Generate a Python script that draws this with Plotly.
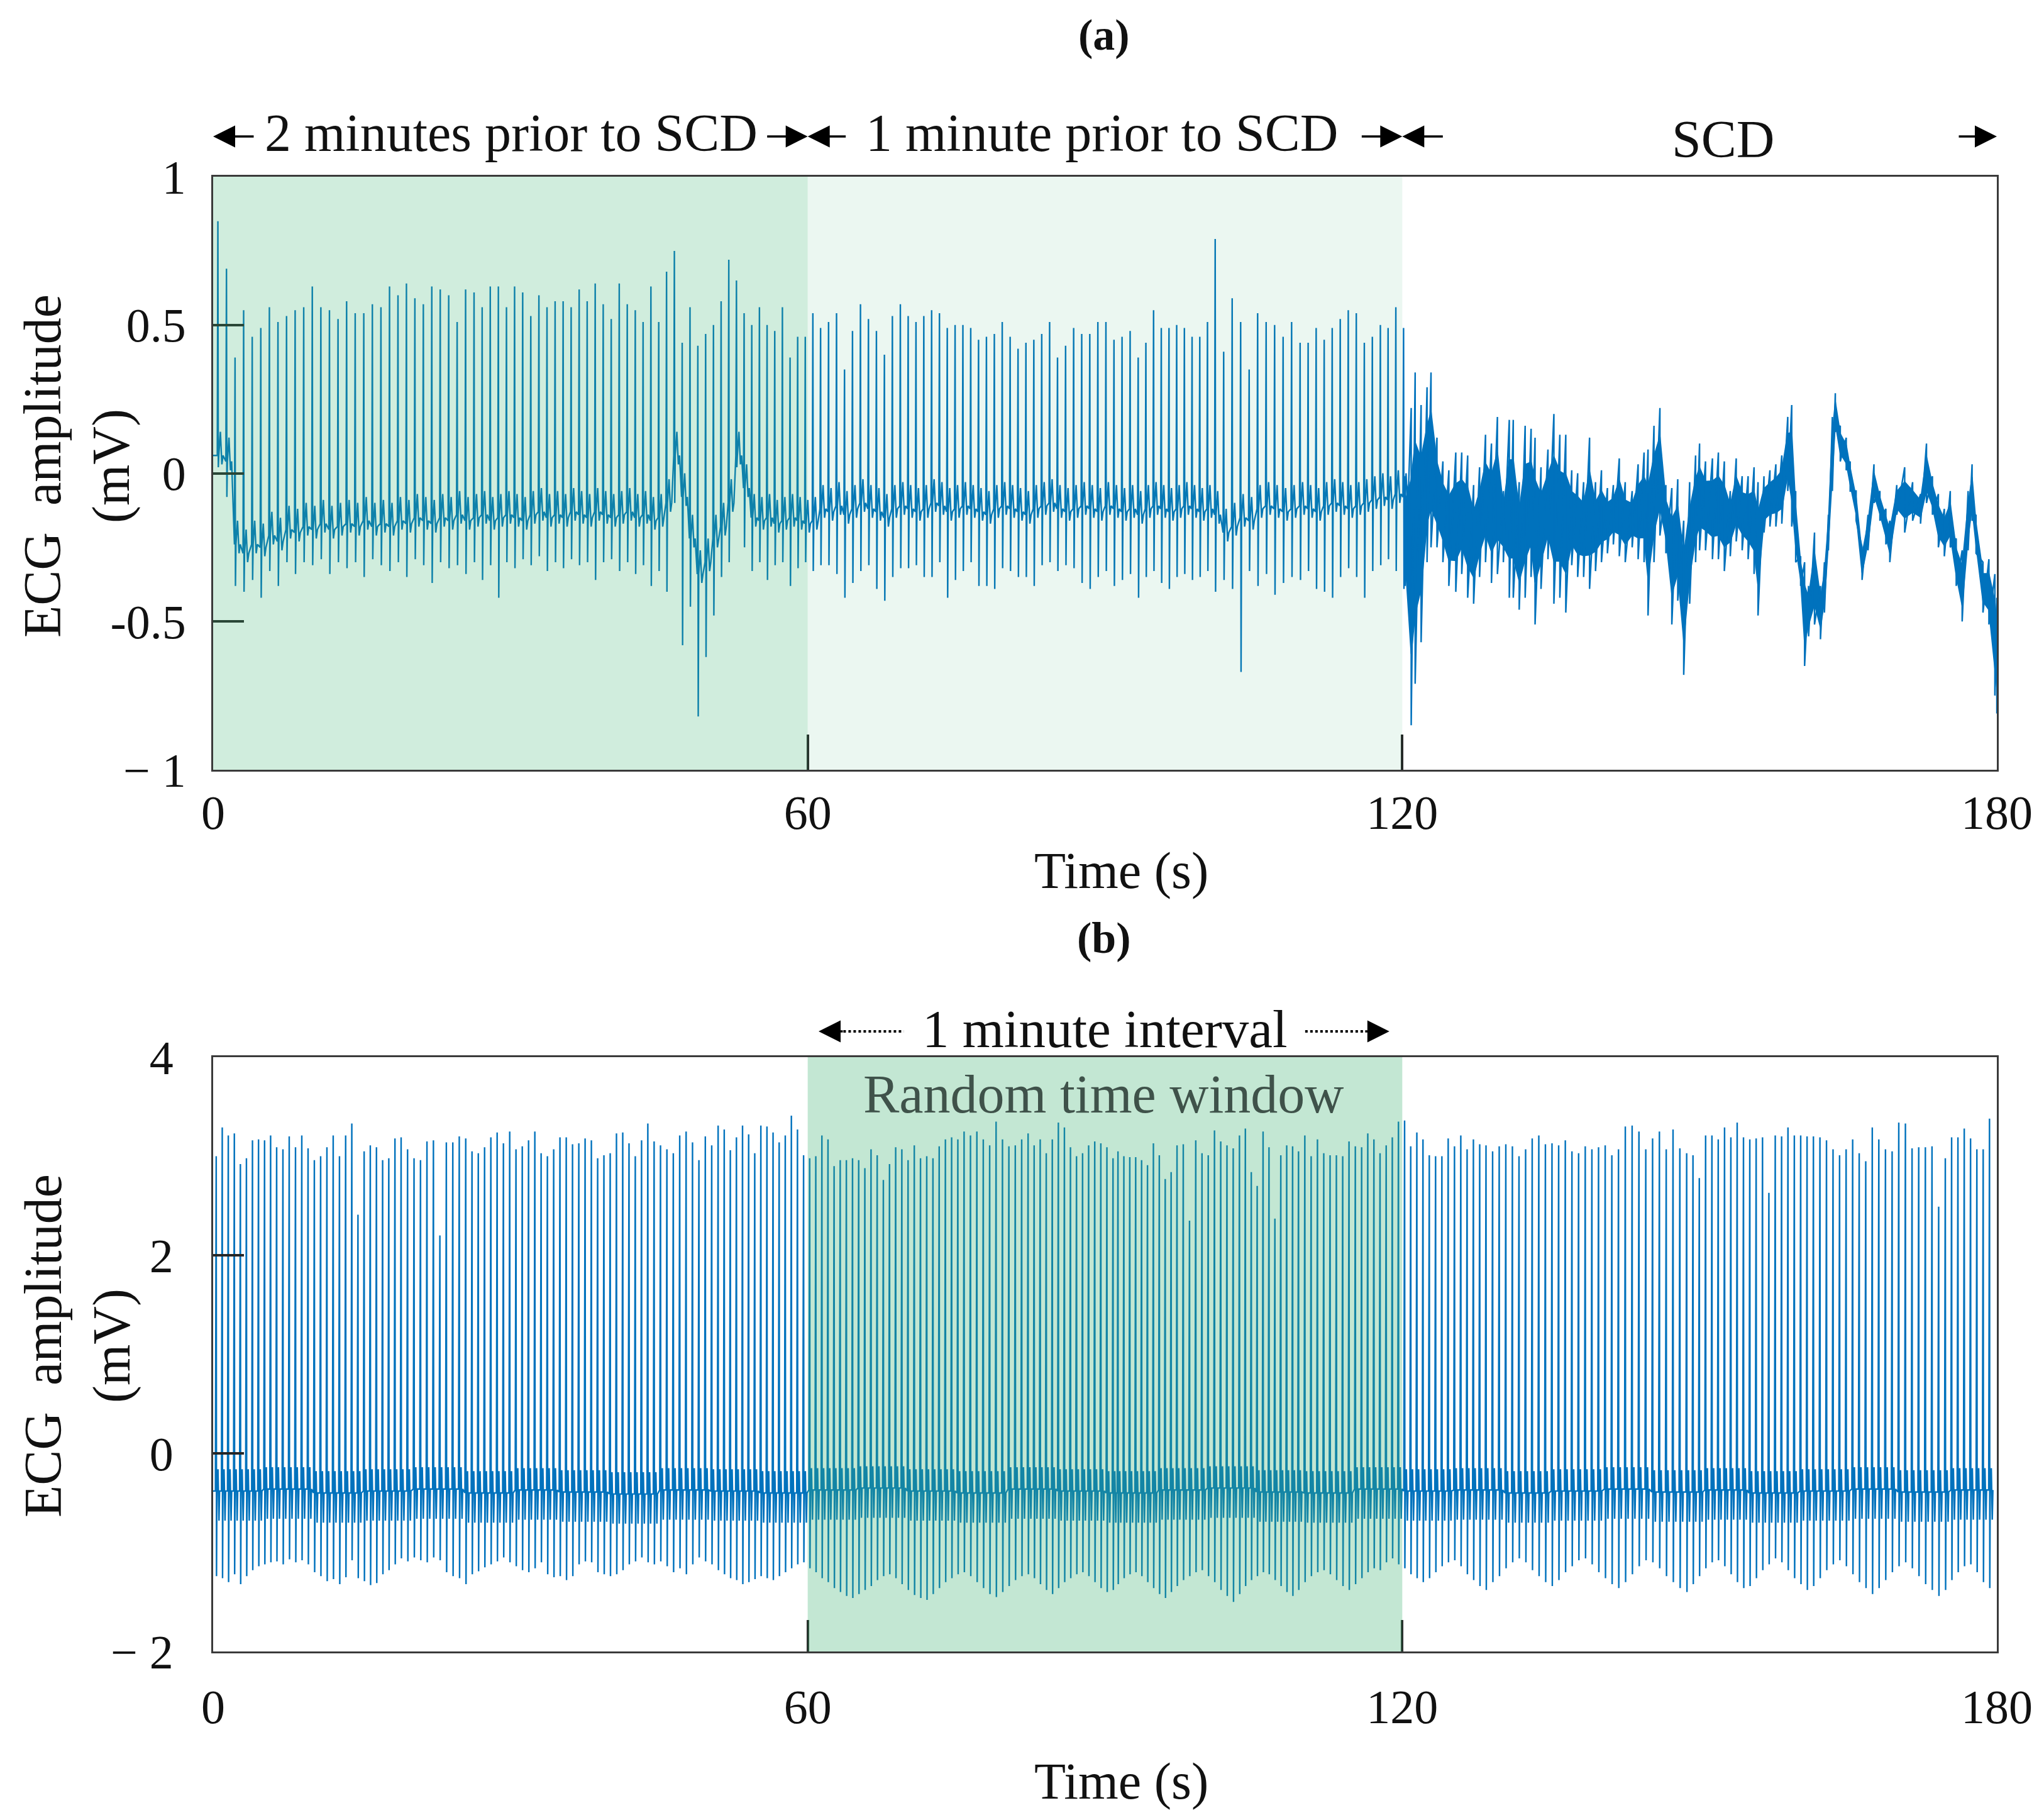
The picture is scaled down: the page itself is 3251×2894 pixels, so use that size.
import numpy as np
import plotly.graph_objects as go

W, H = 3251, 2894

# ---------------------------------------------------------------- data
TIME_TICKS = [0, 60, 120, 180]
TIME_TICK_LABELS = ["0", "60", "120", "180"]
TOP_Y_TICKS = [-1, -0.5, 0, 0.5, 1]
TOP_Y_LABELS = ["\u2212 1", "-0.5", "0", "0.5", "1"]
BOT_Y_TICKS = [-2, 0, 2, 4]
BOT_Y_LABELS = ["\u2212 2", "0", "2", "4"]

PHASE_LABELS = ["2 minutes prior to SCD", "1 minute prior to SCD", "SCD"]
PHASE_START = [0, 60, 120]
PHASE_END = [60, 120, 180]
WINDOW_START, WINDOW_END = 60, 120

# (a) 2 min .. 1 min before SCD: beats (start time s, mean RR per 10 beats)
PRE1_START = 0.48
PRE1_RR = [0.866, 0.866, 0.853, 0.818, 0.809, 0.789, 0.773, 0.767]
PRE1_PEAK = [0.85, 0.69, 0.39, 0.55, 0.46, 0.49, 0.56, 0.51, 0.53, 0.55,
             0.56, 0.63, 0.56, 0.55, 0.52, 0.58, 0.54, 0.54, 0.57, 0.56,
             0.63, 0.60, 0.64, 0.59, 0.57, 0.63, 0.62, 0.60, 0.51, 0.62,
             0.61, 0.56, 0.63, 0.63, 0.56, 0.63, 0.61, 0.53, 0.60, 0.56,
             0.58, 0.58, 0.56, 0.62, 0.58, 0.64, 0.57, 0.52, 0.64, 0.57,
             0.55, 0.51, 0.63, 0.51, 0.68, 0.75, 0.44, 0.56, 0.43, 0.47,
             0.50, 0.58, 0.72, 0.65, 0.54, 0.50, 0.56, 0.50, 0.48, 0.56,
             0.39, 0.46, 0.46, 0.54]
PRE1_TROUGH = [0.02, -0.08, -0.38, -0.40, -0.36, -0.42, -0.33, -0.38, -0.30, -0.34,
               -0.30, -0.31, -0.29, -0.34, -0.30, -0.32, -0.30, -0.35, -0.29, -0.31,
               -0.33, -0.30, -0.35, -0.29, -0.31, -0.37, -0.30, -0.32, -0.31, -0.34,
               -0.30, -0.36, -0.31, -0.42, -0.30, -0.32, -0.29, -0.31, -0.28, -0.33,
               -0.30, -0.32, -0.29, -0.31, -0.30, -0.36, -0.30, -0.29, -0.33, -0.30,
               -0.34, -0.31, -0.38, -0.33, -0.40, -0.10, -0.58, -0.45, -0.82, -0.62,
               -0.48, -0.35, -0.30, 0.02, -0.25, -0.33, -0.30, -0.36, -0.31, -0.30,
               -0.38, -0.32, -0.30, -0.33]
PRE1_BASE = [0.06, 0.04, -0.24, -0.27, -0.24, -0.25, -0.21, -0.23, -0.19, -0.20,
             -0.18, -0.19, -0.17, -0.19, -0.18, -0.17, -0.18, -0.16, -0.18, -0.17,
             -0.18, -0.16, -0.17, -0.15, -0.16, -0.17, -0.15, -0.16, -0.14, -0.16,
             -0.15, -0.14, -0.16, -0.15, -0.14, -0.15, -0.16, -0.14, -0.13, -0.15,
             -0.14, -0.15, -0.13, -0.14, -0.15, -0.13, -0.14, -0.15, -0.14, -0.13,
             -0.15, -0.14, -0.16, -0.15, -0.10, 0.06, -0.08, -0.22, -0.34, -0.30,
             -0.22, -0.18, -0.10, 0.06, -0.05, -0.15, -0.16, -0.15, -0.17, -0.16,
             -0.15, -0.16, -0.17, -0.16]

# (a) 1 min before SCD
PRE2_START = 61.30
PRE2_RR = [0.805, 0.789, 0.797, 0.814, 0.777, 0.857, 0.810, 0.780]
PRE2_PEAK = [0.49, 0.51, 0.54, 0.35, 0.48, 0.57, 0.52, 0.48, 0.40, 0.53,
             0.57, 0.53, 0.51, 0.53, 0.55, 0.54, 0.49, 0.50, 0.50, 0.49,
             0.45, 0.46, 0.47, 0.51, 0.46, 0.42, 0.44, 0.45, 0.47, 0.51,
             0.39, 0.43, 0.49, 0.47, 0.47, 0.51, 0.51, 0.45, 0.46, 0.48,
             0.39, 0.44, 0.55, 0.49, 0.49, 0.50, 0.49, 0.46, 0.46, 0.51,
             0.79, 0.41, 0.59, 0.51, 0.35, 0.54, 0.51, 0.50, 0.46, 0.51,
             0.44, 0.44, 0.49, 0.45, 0.49, 0.52, 0.55, 0.54, 0.44, 0.46,
             0.50, 0.49, 0.56, 0.49]
PRE2_TROUGH = [-0.31, -0.31, -0.34, -0.42, -0.37, -0.33, -0.31, -0.39, -0.43, -0.35,
               -0.32, -0.32, -0.31, -0.35, -0.35, -0.30, -0.42, -0.36, -0.33, -0.30,
               -0.38, -0.38, -0.39, -0.32, -0.33, -0.35, -0.35, -0.38, -0.31, -0.30,
               -0.33, -0.31, -0.32, -0.37, -0.39, -0.35, -0.33, -0.38, -0.36, -0.34,
               -0.42, -0.35, -0.33, -0.37, -0.39, -0.35, -0.34, -0.36, -0.35, -0.33,
               -0.40, -0.36, -0.39, -0.67, -0.33, -0.38, -0.34, -0.41, -0.37, -0.35,
               -0.36, -0.33, -0.39, -0.40, -0.42, -0.35, -0.32, -0.35, -0.42, -0.33,
               -0.31, -0.29, -0.33, -0.39]
PRE2_BASE = [-0.12, -0.13, -0.11, -0.14, -0.12, -0.10, -0.12, -0.13, -0.15, -0.12,
             -0.11, -0.12, -0.13, -0.12, -0.10, -0.11, -0.13, -0.12, -0.11, -0.12,
             -0.13, -0.14, -0.12, -0.11, -0.12, -0.13, -0.14, -0.12, -0.11, -0.10,
             -0.12, -0.13, -0.12, -0.11, -0.12, -0.13, -0.11, -0.12, -0.13, -0.12,
             -0.14, -0.12, -0.11, -0.12, -0.13, -0.12, -0.11, -0.12, -0.13, -0.12,
             -0.14, -0.20, -0.18, -0.15, -0.16, -0.12, -0.11, -0.12, -0.13, -0.12,
             -0.11, -0.12, -0.13, -0.11, -0.10, -0.11, -0.12, -0.11, -0.10, -0.09,
             -0.08, -0.09, -0.07, -0.08]

# (a) SCD episode: upper / lower extent of the trace at each reading time
SCD_T = [120.3, 120.9, 121.3, 121.9, 122.5, 122.9, 123.5, 124.1, 124.7, 125.4,
         126.0, 126.6, 127.2, 127.8, 128.4, 129.0, 129.6, 130.2, 130.8, 131.2,
         131.8, 132.4, 133.0, 133.4, 134.0, 134.7, 135.3, 135.9, 136.5, 137.1,
         137.7, 138.3, 138.9, 139.5, 140.1, 140.7, 141.3, 141.9, 142.5, 143.2,
         143.8, 144.4, 144.8, 145.4, 146.0, 146.6, 147.2, 147.8, 148.4, 149.0,
         149.6, 150.0, 150.6, 151.3, 151.9, 152.5, 153.1, 153.7, 154.3, 154.9,
         155.5, 155.9, 156.5, 157.1, 157.7, 158.3, 158.9, 159.3, 159.7, 160.2,
         160.6, 161.0, 161.6, 162.2, 162.6, 163.0, 163.4, 163.7, 164.2, 164.8,
         165.2, 165.8, 166.4, 167.0, 167.6, 168.2, 168.8, 169.2, 169.9, 170.7,
         171.5, 172.3, 172.9, 173.5, 174.1, 174.7, 175.3, 175.9, 176.5, 177.1,
         177.5, 177.9, 178.6, 179.2, 179.8, 180.0]
SCD_HI = [-0.01, 0.22, 0.34, 0.23, 0.29, 0.34, 0.12, 0.04, 0.01, 0.07,
          0.07, 0.06, -0.04, 0.02, 0.13, 0.10, 0.19, -0.06, 0.18, 0.18,
          -0.03, 0.16, 0.15, 0.12, 0.02, 0.08, 0.20, 0.13, 0.13, 0.01,
          0.00, -0.03, 0.12, -0.03, 0.01, -0.05, -0.04, 0.05, -0.03, -0.06,
          0.03, 0.07, 0.08, 0.16, 0.22, -0.04, -0.05, -0.02, -0.16, -0.03,
          0.06, 0.10, 0.04, 0.05, 0.07, 0.04, -0.06, 0.05, -0.01, -0.01,
          0.02, -0.03, -0.01, 0.01, 0.03, 0.06, 0.19, 0.23, -0.06, -0.28,
          -0.30, -0.38, -0.20, -0.38, -0.30, -0.14, 0.19, 0.27, 0.16, 0.12,
          0.04, -0.06, -0.25, -0.14, 0.03, -0.06, -0.12, -0.16, -0.04, 0.02,
          -0.03, -0.07, 0.10, -0.01, -0.07, -0.12, -0.06, -0.22, -0.26, -0.06,
          0.03, -0.14, -0.30, -0.29, -0.34, -0.42]
SCD_LO = [-0.38, -0.85, -0.71, -0.57, -0.30, -0.25, -0.25, -0.30, -0.38, -0.40,
          -0.34, -0.42, -0.44, -0.35, -0.30, -0.37, -0.34, -0.30, -0.42, -0.42,
          -0.46, -0.42, -0.35, -0.51, -0.39, -0.29, -0.44, -0.42, -0.47, -0.31,
          -0.35, -0.35, -0.39, -0.33, -0.30, -0.27, -0.24, -0.28, -0.30, -0.25,
          -0.29, -0.30, -0.48, -0.30, -0.21, -0.27, -0.51, -0.43, -0.68, -0.44,
          -0.30, -0.26, -0.26, -0.29, -0.29, -0.33, -0.28, -0.23, -0.26, -0.29,
          -0.34, -0.48, -0.20, -0.18, -0.18, -0.17, -0.06, -0.18, -0.30, -0.38,
          -0.65, -0.55, -0.51, -0.56, -0.47, -0.26, -0.06, 0.14, 0.04, 0.01,
          -0.06, -0.16, -0.36, -0.26, -0.10, -0.16, -0.24, -0.30, -0.14, -0.20,
          -0.16, -0.17, -0.10, -0.14, -0.25, -0.28, -0.25, -0.38, -0.50, -0.26,
          -0.16, -0.27, -0.47, -0.51, -0.75, -0.81]

# (b) normal recording
BOT1_START = 0.31
BOT1_RR = [0.610, 0.634, 0.622, 0.652, 0.634, 0.634, 0.633, 0.646, 0.616, 0.616,
           0.622, 0.628, 0.646, 0.611, 0.615]
BOT1_PEAK = [3.00, 3.29, 3.21, 3.23, 2.92, 2.98, 3.16, 3.17, 3.16, 3.21,
             3.09, 3.07, 3.20, 3.09, 3.21, 3.08, 2.96, 3.00, 3.09, 3.21,
             3.00, 3.21, 3.33, 2.41, 3.05, 3.11, 3.09, 2.96, 2.98, 3.18,
             3.19, 3.07, 2.98, 2.96, 3.15, 3.16, 2.20, 3.14, 3.14, 3.20,
             3.18, 3.05, 3.03, 3.09, 3.19, 3.24, 3.13, 3.25, 3.07, 3.10,
             3.16, 3.25, 3.03, 3.00, 3.07, 3.19, 3.19, 3.12, 3.13, 3.18,
             3.16, 2.98, 3.01, 3.03, 3.23, 3.24, 3.13, 3.00, 3.16, 3.33,
             3.15, 3.11, 3.07, 3.03, 3.21, 3.25, 3.14, 2.96, 3.20, 3.11,
             3.31, 3.27, 3.06, 3.19, 3.31, 3.22, 3.03, 3.31, 3.30, 3.24,
             3.14, 3.21, 3.41, 3.27, 3.01, 2.98, 3.00, 3.21, 3.17, 2.90,
             2.96, 2.96, 2.98, 2.96, 2.88, 3.07, 3.01, 2.76, 2.92, 3.09,
             3.07, 2.96, 3.11, 2.98, 3.00, 2.98, 3.10, 3.17, 3.19, 3.17,
             3.25, 3.21, 3.25, 3.17, 3.11, 3.35, 3.17, 3.10, 3.11, 3.17,
             3.23, 3.11, 3.17, 3.03, 3.17, 3.34, 3.29, 3.09, 3.00, 3.03,
             3.11, 3.15, 3.13, 3.09, 2.98]
BOT1_TROUGH = [-1.24, -1.26, -1.30, -1.22, -1.32, -1.24, -1.18, -1.14, -1.12, -1.10,
               -1.09, -1.12, -1.07, -1.10, -1.08, -1.12, -1.20, -1.24, -1.29, -1.27,
               -1.32, -1.25, -1.08, -1.26, -1.29, -1.33, -1.31, -1.22, -1.18, -1.12,
               -1.06, -1.09, -1.05, -1.08, -1.10, -1.05, -1.08, -1.20, -1.24, -1.26,
               -1.32, -1.22, -1.19, -1.15, -1.12, -1.09, -1.05, -1.10, -1.14, -1.18,
               -1.20, -1.16, -1.10, -1.22, -1.25, -1.24, -1.28, -1.24, -1.12, -1.09,
               -1.10, -1.20, -1.22, -1.24, -1.22, -1.18, -1.12, -1.09, -1.05, -1.10,
               -1.12, -1.09, -1.14, -1.20, -1.16, -1.22, -1.12, -1.05, -1.09, -1.12,
               -1.18, -1.22, -1.26, -1.28, -1.32, -1.30, -1.27, -1.24, -1.26, -1.28,
               -1.24, -1.20, -1.16, -1.12, -1.10, -1.16, -1.20, -1.26, -1.30, -1.36,
               -1.40, -1.44, -1.46, -1.42, -1.38, -1.34, -1.28, -1.24, -1.22, -1.26,
               -1.32, -1.38, -1.43, -1.46, -1.48, -1.42, -1.36, -1.30, -1.26, -1.22,
               -1.20, -1.24, -1.30, -1.36, -1.42, -1.45, -1.40, -1.34, -1.28, -1.24,
               -1.22, -1.26, -1.32, -1.38, -1.42, -1.36, -1.30, -1.26, -1.22, -1.20,
               -1.24, -1.30, -1.36, -1.40, -1.38]
BOT2_START = 91.31
BOT2_RR = [0.596, 0.630, 0.596, 0.637, 0.619, 0.636, 0.666, 0.671, 0.688, 0.637,
           0.642, 0.660, 0.671, 0.637]
BOT2_PEAK = [3.05, 3.00, 2.99, 2.99, 2.96, 2.91, 3.13, 3.01, 2.77, 2.84,
             3.11, 3.12, 2.35, 3.16, 3.03, 3.01, 3.26, 3.15, 3.11, 3.08,
             3.21, 3.28, 2.84, 2.70, 3.25, 3.09, 2.37, 3.01, 3.11, 3.10,
             3.05, 3.21, 3.00, 3.17, 3.03, 3.01, 3.01, 3.00, 3.15, 3.10,
             3.09, 3.23, 3.17, 3.03, 3.11, 3.19, 3.35, 3.36, 3.10, 3.24,
             3.17, 3.01, 3.00, 3.00, 3.18, 3.10, 3.21, 3.07, 3.17, 3.12,
             3.11, 3.05, 3.10, 3.12, 3.10, 3.00, 3.07, 3.18, 3.21, 3.12,
             3.13, 3.11, 3.16, 3.05, 3.03, 3.10, 3.07, 3.09, 3.11, 3.01,
             3.07, 3.30, 3.31, 3.25, 3.07, 3.18, 3.25, 3.07, 3.27, 3.08,
             3.03, 3.01, 2.78, 3.21, 3.21, 3.17, 3.29, 3.19, 3.34, 3.19,
             3.17, 3.18, 3.19, 2.63, 3.21, 3.20, 3.29, 3.21, 3.21, 3.20,
             3.20, 3.19, 3.16, 3.07, 3.01, 3.07, 3.17, 3.03, 2.95, 3.29,
             3.17, 3.07, 3.05, 3.34, 3.33, 3.08, 3.09, 3.09, 3.10, 2.49,
             2.98, 3.19, 3.19, 3.28, 3.18, 3.07, 3.07, 3.38]
BOT2_TROUGH = [-1.32, -1.26, -1.22, -1.20, -1.24, -1.30, -1.36, -1.42, -1.46, -1.40,
               -1.34, -1.28, -1.24, -1.20, -1.18, -1.24, -1.30, -1.38, -1.44, -1.50,
               -1.42, -1.34, -1.28, -1.24, -1.20, -1.22, -1.28, -1.34, -1.40, -1.44,
               -1.38, -1.30, -1.24, -1.20, -1.18, -1.22, -1.28, -1.34, -1.38, -1.32,
               -1.26, -1.20, -1.16, -1.18, -1.10, -1.06, -1.12, -1.16, -1.22, -1.26,
               -1.30, -1.26, -1.20, -1.14, -1.10, -1.08, -1.14, -1.22, -1.28, -1.34,
               -1.38, -1.30, -1.24, -1.16, -1.10, -1.06, -1.10, -1.18, -1.24, -1.30,
               -1.34, -1.28, -1.20, -1.14, -1.08, -1.06, -1.12, -1.20, -1.26, -1.32,
               -1.36, -1.30, -1.22, -1.14, -1.08, -1.10, -1.16, -1.24, -1.30, -1.36,
               -1.40, -1.32, -1.24, -1.16, -1.10, -1.08, -1.14, -1.22, -1.30, -1.36,
               -1.34, -1.26, -1.18, -1.12, -1.06, -1.10, -1.18, -1.26, -1.32, -1.38,
               -1.34, -1.26, -1.18, -1.12, -1.08, -1.14, -1.22, -1.30, -1.36, -1.42,
               -1.36, -1.28, -1.20, -1.14, -1.10, -1.16, -1.24, -1.32, -1.38, -1.44,
               -1.38, -1.28, -1.20, -1.14, -1.12, -1.20, -1.30, -1.36]
# baseline level of (b) in consecutive 5-second blocks
BOT_BASE_5S = [-0.38, -0.36, -0.40, -0.38, -0.36, -0.40, -0.37, -0.39, -0.41, -0.37,
               -0.38, -0.40, -0.37, -0.35, -0.38, -0.40, -0.36, -0.38, -0.40, -0.37,
               -0.35, -0.39, -0.40, -0.36, -0.38, -0.37, -0.40, -0.38, -0.36, -0.39,
               -0.37, -0.40, -0.38, -0.36, -0.39, -0.37]

# ---------------------------------------------------------------- style
BLUE = "#0072BD"
GREEN = "rgb(60,179,113)"
FONT = "Liberation Serif"
OFF = 8            # page body margin of the written html (px)
CORE = 0.55        # share of the SCD band drawn as solid core
# beat waveform template: (time offset s, which value, offset added to baseline)
TEMPLATE_A = [(-0.06, "b", 0.0), (0.0, "p", 0.0), (0.04, "q", 0.0), (0.09, "b", 0.0),
              (0.25, "b", 0.08), (0.40, "b", -0.03), (0.52, "b", 0.0)]
TEMPLATE_B = [(-0.08, "b", 0.0), (0.0, "p", 0.0), (0.03, "q", 0.0), (0.07, "b", 0.0),
              (0.18, "b", 0.22), (0.28, "b", -0.30), (0.34, "b", 0.0)]


def beat_times(start, rr, n, group=10):
    t = [start]
    for k in range(1, n):
        t.append(t[-1] + rr[(k - 1) // group])
    return t


def beat_trace(times, peaks, troughs, bases, template):
    xs, ys = [], []
    for t, p, q, b in zip(times, peaks, troughs, bases):
        for dt, kind, off in template:
            xs.append(t + dt)
            ys.append(p if kind == "p" else (q if kind == "q" else b + off))
    return xs, ys


# panel (a)
t1 = beat_times(PRE1_START, PRE1_RR, len(PRE1_PEAK))
t2 = beat_times(PRE2_START, PRE2_RR, len(PRE2_PEAK))
xa1, ya1 = beat_trace(t1, PRE1_PEAK, PRE1_TROUGH, PRE1_BASE, TEMPLATE_A)
xa2, ya2 = beat_trace(t2, PRE2_PEAK, PRE2_TROUGH, PRE2_BASE, TEMPLATE_A)
xs_scd, ys_scd = [], []
for t, hi, lo in zip(SCD_T, SCD_HI, SCD_LO):
    xs_scd += [t, t]
    ys_scd += [hi, lo]
xa = [0.0] + xa1 + xa2 + xs_scd
ya = [PRE1_BASE[0]] + ya1 + ya2 + ys_scd
xa = [min(max(v, 0.0), 180.0) for v in xa]

hi_arr, lo_arr = np.array(SCD_HI), np.array(SCD_LO)
mid = (hi_arr + lo_arr) / 2
core_hi = mid + CORE * (hi_arr - mid)
core_lo = mid + CORE * (lo_arr - mid)

# panel (b)
tb1 = beat_times(BOT1_START, BOT1_RR, len(BOT1_PEAK))
tb2 = beat_times(BOT2_START, BOT2_RR, len(BOT2_PEAK))
tb = tb1 + tb2
base_b = [BOT_BASE_5S[min(int(t // 5), len(BOT_BASE_5S) - 1)] for t in tb]
xb, yb = beat_trace(tb, BOT1_PEAK + BOT2_PEAK, BOT1_TROUGH + BOT2_TROUGH, base_b, TEMPLATE_B)
xb = [0.0] + xb
yb = [base_b[0]] + yb
xb = [min(max(v, 0.0), 180.0) for v in xb]

fig = go.Figure()
fig.add_trace(go.Scatter(x=SCD_T + SCD_T[::-1], y=list(core_hi) + list(core_lo[::-1]),
                         mode="lines", fill="toself", fillcolor=BLUE, xaxis="x", yaxis="y",
                         line=dict(color=BLUE, width=2), hoverinfo="skip"))
fig.add_trace(go.Scatter(x=xa, y=ya, mode="lines", xaxis="x", yaxis="y",
                         line=dict(color=BLUE, width=2.4), hoverinfo="skip"))
fig.add_trace(go.Scatter(x=xb, y=yb, mode="lines", xaxis="x2", yaxis="y2",
                         line=dict(color=BLUE, width=2.4), hoverinfo="skip"))


def px_x(px):
    return (px - OFF) / W


def px_y(py):
    return 1 - (py - OFF) / H


X_DOM = [px_x(339), px_x(3176)]
TOP_DOM = [px_y(1224), px_y(281)]
BOT_DOM = [px_y(2626), px_y(1681)]

axis_common = dict(showline=True, linewidth=3, linecolor="#3a3a3a", mirror=True,
                   showgrid=False, zeroline=False, ticks="inside", tickwidth=3.5,
                   automargin=False,
                   tickcolor="#262626", tickfont=dict(family=FONT, size=76, color="#111"))

fig.update_layout(
    width=W, height=H, margin=dict(l=0, r=0, t=0, b=0, pad=0, autoexpand=False),
    paper_bgcolor="white", plot_bgcolor="white", showlegend=False,
    font=dict(family=FONT, color="#111"),
    xaxis=dict(domain=X_DOM, anchor="y", range=[0, 180], tickvals=TIME_TICKS,
               ticktext=TIME_TICK_LABELS, ticklen=56, ticklabelstandoff=0, **axis_common),
    yaxis=dict(domain=TOP_DOM, anchor="x", range=[-1, 1], tickvals=TOP_Y_TICKS,
               ticktext=TOP_Y_LABELS, ticklen=49, ticklabelstandoff=25, **axis_common),
    xaxis2=dict(domain=X_DOM, anchor="y2", range=[0, 180], tickvals=TIME_TICKS,
                ticktext=TIME_TICK_LABELS, ticklen=50, ticklabelstandoff=20, **axis_common),
    yaxis2=dict(domain=BOT_DOM, anchor="x2", range=[-2, 4], tickvals=BOT_Y_TICKS,
                ticktext=BOT_Y_LABELS, ticklen=49, ticklabelstandoff=45, **axis_common),
)

# shaded phases
shapes = [
    dict(type="rect", xref="x", yref="y domain", x0=PHASE_START[0], x1=PHASE_END[0], y0=0, y1=1,
         fillcolor=GREEN, opacity=0.24, line=dict(width=0), layer="above"),
    dict(type="rect", xref="x", yref="y domain", x0=PHASE_START[1], x1=PHASE_END[1], y0=0, y1=1,
         fillcolor=GREEN, opacity=0.10, line=dict(width=0), layer="above"),
    dict(type="rect", xref="x2", yref="y2 domain", x0=WINDOW_START, x1=WINDOW_END, y0=0, y1=1,
         fillcolor=GREEN, opacity=0.31, line=dict(width=0), layer="above"),
]
# dotted parts of the "1 minute interval" arrows
y_int = px_y(1640)
shapes += [
    dict(type="line", xref="x2", yref="paper", x0=63.6, x1=69.7, y0=y_int, y1=y_int,
         line=dict(color="black", width=4, dash="dot")),
    dict(type="line", xref="x2", yref="paper", x0=110.2, x1=116.3, y0=y_int, y1=y_int,
         line=dict(color="black", width=4, dash="dot")),
]
fig.update_layout(shapes=shapes)

ann = []


def text(t, xpx, ypx, size=84, bold=False, color="#111", angle=0):
    ann.append(dict(text=f"<b>{t}</b>" if bold else t, x=px_x(xpx), y=px_y(ypx),
                    xref="paper", yref="paper", showarrow=False, xanchor="center",
                    yanchor="middle", textangle=angle,
                    font=dict(family=FONT, size=size, color=color)))


def arrow(xdata, ypx, dx, xref="x"):
    ann.append(dict(text="", x=xdata, y=px_y(ypx), xref=xref, yref="paper",
                    showarrow=True, ax=dx, ay=0, axref="pixel", ayref="pixel",
                    arrowhead=2, arrowsize=2.0, arrowwidth=3.5, arrowcolor="black",
                    standoff=0, startstandoff=0))


text("(a)", 1756, 56, size=70, bold=True)
text("(b)", 1756, 1491, size=70, bold=True)
text(PHASE_LABELS[0], 813, 211)
text(PHASE_LABELS[1], 1752, 211)
text(PHASE_LABELS[2], 2740, 221)
arrow(PHASE_START[0], 217, 66)
arrow(PHASE_END[0], 217, -66)
arrow(PHASE_START[1], 217, 62)
arrow(PHASE_END[1], 217, -66)
arrow(PHASE_START[2], 217, 66)
arrow(PHASE_END[2], 217, -62)
text("1 minute interval", 1758, 1636, size=85)
arrow(61.1, 1640, 40, xref="x2")
arrow(118.7, 1640, -40, xref="x2")
text("Random time window", 1755, 1740, size=86, color="#3f524a")
text("Time (s)", 1783, 1385, size=82)
text("Time (s)", 1783, 2832, size=82)
text("ECG\u00a0\u00a0amplitude<br>(mV)", 123, 741, size=84, angle=-90)
text("ECG\u00a0\u00a0amplitude<br>(mV)", 123, 2140, size=84, angle=-90)
fig.update_layout(annotations=ann)

fig.write_html("out.html")
